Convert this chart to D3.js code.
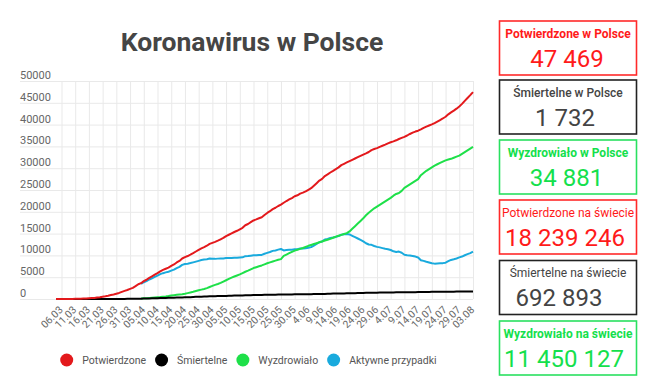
<!DOCTYPE html>
<html><head><meta charset="utf-8">
<script src="https://cdn.jsdelivr.net/npm/d3@7"></script>
<style>
body{margin:0;background:#fff;}
svg{display:block;font-family:Roboto,"Noto Sans",sans-serif;}
</style>
</head><body>
<svg id="c" width="645" height="388"></svg>
<script>
// ---- data ----
const chartTitle = "Koronawirus w Polsce";
// daily data from 04.03 (index 0) to 03.08 (index 152)
const xTickLabels = ["06.03","11.03","16.03","21.03","26.03","31.03","05.04","10.04","15.04","20.04","25.04","30.04","05.05","10.05","15.05","20.05","25.05","30.05","4.06","9.06","14.06","19.06","24.06","29.06","4.07","9.07","14.07","19.07","24.07","29.07","03.08"];
const firstTickIndex = 2;
const yTicks = [0,5000,10000,15000,20000,25000,30000,35000,40000,45000,50000];

const confirmed = [
1,1,5,6,11,17,22,31,51,68,104,125,177,238,251,355,425,536,634,749,901,1051,1221,1389,1638,1862,2055,2311,
2554,2946,3383,3627,4102,4413,4848,5205,5575,5955,6356,6674,6934,7202,7582,7918,8379,8742,9287,9593,9856,10169,10511,10892,11273,11617,11902,12218,12640,12877,
13105,13375,13693,14006,14431,14740,15047,15366,15651,15996,16326,16921,17204,17615,18016,18257,18529,18746,19268,19739,20143,20619,20931,21326,21631,22074,22473,22825,23155,23571,23786,
24165,24395,24687,25048,25410,25986,26561,27160,27560,28201,28577,29017,29392,29788,30195,30701,31015,31316,31620,31931,32227,32527,32821,33119,33395,33714,34154,34393,34600,34900,
35150,35400,35700,35950,36150,36400,36700,36950,37200,37500,37850,38150,38400,38600,38900,39250,39550,39800,40050,40350,40700,41050,41400,41800,42350,42800,43200,43650,44150,44750,45450,
46100,46750,47469];

const deaths = [
0,0,0,0,0,0,0,0,1,2,3,3,5,5,5,5,5,5,7,8,10,14,16,17,18,22,31,33,
43,57,71,79,94,107,129,159,174,181,208,232,245,263,286,314,332,347,360,380,401,426,454,494,524,535,562,596,618,644,
651,664,678,698,716,733,755,776,785,800,812,839,861,883,907,915,925,929,948,962,972,982,996,1007,1010,1024,1038,1043,1051,1061,1064,
1074,1087,1092,1115,1117,1125,1136,1147,1157,1166,1215,1222,1237,1247,1256,1272,1286,1304,1316,1330,1339,1351,1372,1391,1407,1412,1429,1444,1446,1463,
1477,1492,1502,1512,1517,1521,1528,1540,1551,1561,1568,1571,1571,1582,1594,1608,1619,1627,1635,1639,1650,1664,1674,1676,1682,1683,1687,1700,1709,1716,1721,
1721,1726,1732];

// recovered & active start at 04.04 (index 31)
const recoveredStart = 31;
const recovered = [
94,162,200,240,290,340,400,450,520,580,680,800,880,950,1020,1100,1200,1350,1500,1650,1820,2000,2150,2300,2500,2750,3000,
3250,3450,3700,4000,4300,4600,4900,5150,5400,5660,5950,6250,6500,6800,7100,7300,7500,7700,7950,8200,8400,8600,8800,9000,9150,9900,10200,10500,10800,11100,11300,
11500,11700,11950,12200,12400,12600,12800,13000,13200,13400,13600,13800,14050,14300,14500,14700,14900,15100,15500,16100,16700,17300,17900,18500,19200,19800,20300,20800,21200,21600,
22000,22400,22800,23200,23700,24100,24300,24800,25500,25900,26300,26700,27100,27500,28400,28900,29400,29800,30200,30600,30900,31200,31500,31800,32000,32150,32400,32650,32900,33300,33700,
34100,34500,34881];

const active = [
3454,3846,4106,4479,4756,5061,5374,5698,5922,6109,6259,6496,6724,7097,7375,7827,8013,8105,8243,8407,8578,8749,8932,9040,9122,9272,9233,
9204,9261,9315,9308,9415,9407,9392,9440,9466,9536,9564,9832,9843,9932,10009,10042,10104,10117,10370,10577,10771,11037,11135,11319,11471,11150,11235,11282,11304,11410,11422,
11591,11608,11645,11733,11893,12261,12625,13013,13203,13635,13762,13995,14105,14241,14439,14729,14829,14912,14804,14501,14188,13876,13549,13228,12788,12502,12425,12149,11954,11837,
11673,11508,11398,11238,10933,10779,10872,10610,10149,10039,9982,9879,9729,9518,8906,8742,8531,8373,8215,8111,8150,8186,8226,8324,8668,8967,9113,9300,9541,9734,10029,
10279,10524,10856];

const seriesNames = ["Potwierdzone","Śmiertelne","Wyzdrowiało","Aktywne przypadki"];
const seriesColors = ["#e3191c","#000000","#1ee049","#19aadd"];

const boxTitles = ["Potwierdzone w Polsce","Śmiertelne w Polsce","Wyzdrowiało w Polsce","Potwierdzone na świecie","Śmiertelne na świecie","Wyzdrowiało na świecie"];
const boxValues = ["47 469","1 732","34 881","18 239 246","692 893","11 450 127"];
const boxColors = ["#ff1a1a","#444444","#14e04c","#ff1a1a","#444444","#14e04c"];
const boxBorders = ["#ff2a2a","#222222","#2ae060","#ff2a2a","#222222","#2ae060"];
const boxWeights = ["700","500","700","400","400","700"];

// ---- drawing ----
const svg = d3.select("#c");
const x = d3.scaleLinear().domain([0, confirmed.length - 1]).range([56, 473]);
const y = d3.scaleLinear().domain([0, 50000]).range([299, 81]);

// title
svg.append("text").attr("x", 252).attr("y", 50.5).attr("text-anchor", "middle")
  .attr("font-size", 26.5).attr("font-weight", 700).attr("fill", "#454545").text(chartTitle);

// y gridlines + labels
const yAx = svg.append("g").attr("transform", "translate(20,0)")
  .call(d3.axisRight(y).tickValues(yTicks).tickSize(453).tickFormat(d3.format("d")));
yAx.select(".domain").remove();
yAx.selectAll(".tick line").attr("stroke", "#e9e9e9");
yAx.selectAll(".tick text").attr("x", 0).attr("dy", "-2.5").attr("text-anchor", "start")
  .attr("font-size", 11).attr("fill", "#666").attr("font-family", "Roboto");

// x gridlines + labels
const tickIdx = xTickLabels.map((d, i) => firstTickIndex + i * 5);
const xAx = svg.append("g").attr("transform", "translate(0,299)")
  .call(d3.axisBottom(x).tickValues(tickIdx).tickSize(-218).tickFormat((d, i) => xTickLabels[i]));
xAx.select(".domain").remove();
xAx.selectAll(".tick line").attr("stroke", "#e9e9e9");
xAx.selectAll(".tick text").attr("y", 0).attr("dy", 0)
  .attr("text-anchor", "end").attr("font-size", 10.3).attr("fill", "#666").attr("font-family", "Roboto")
  .attr("transform", "translate(1.5,11.5) rotate(-45)");

// lines
const line = off => d3.line().x((d, i) => x(i + off)).y(d => y(d));
const series = [
  {v: active, off: recoveredStart, c: seriesColors[3]},
  {v: recovered, off: recoveredStart, c: seriesColors[2]},
  {v: deaths, off: 0, c: seriesColors[1]},
  {v: confirmed, off: 0, c: seriesColors[0]}
];
series.forEach(s => {
  svg.append("path").attr("d", line(s.off)(s.v)).attr("fill", "none")
    .attr("stroke", s.c).attr("stroke-width", 2).attr("stroke-linejoin", "round");
});

// legend
let lx = 66.7;
seriesNames.forEach((n, i) => {
  svg.append("circle").attr("cx", lx).attr("cy", 360).attr("r", 6.5).attr("fill", seriesColors[i]);
  const t = svg.append("text").attr("x", lx + 15.5).attr("y", 363.8).attr("font-size", 10.5)
    .attr("fill", "#555").text(n);
  lx += 15.5 + t.node().getComputedTextLength() + 15.5;
});

// info boxes
const boxTop = [21, 80, 140, 200, 260.5, 321];
const valueCenter = [67.5, 65.5, 67, 65.5, 59.5, 64.5];
boxTitles.forEach((t, i) => {
  const g = svg.append("g").attr("transform", `translate(499.5,${boxTop[i]})`);
  g.append("rect").attr("width", 137).attr("height", 54).attr("fill", "#fff")
    .attr("stroke", boxBorders[i]).attr("stroke-width", 1.6);
  g.append("text").attr("x", 68.5).attr("y", 16.5).attr("text-anchor", "middle")
    .attr("font-size", 12).attr("font-weight", boxWeights[i]).attr("fill", boxColors[i]).text(t);
  g.append("text").attr("x", valueCenter[i]).attr("y", 45.5).attr("text-anchor", "middle")
    .attr("font-size", 24).attr("font-weight", 400).attr("fill", boxColors[i]).text(boxValues[i]);
});
</script>
</body></html>
